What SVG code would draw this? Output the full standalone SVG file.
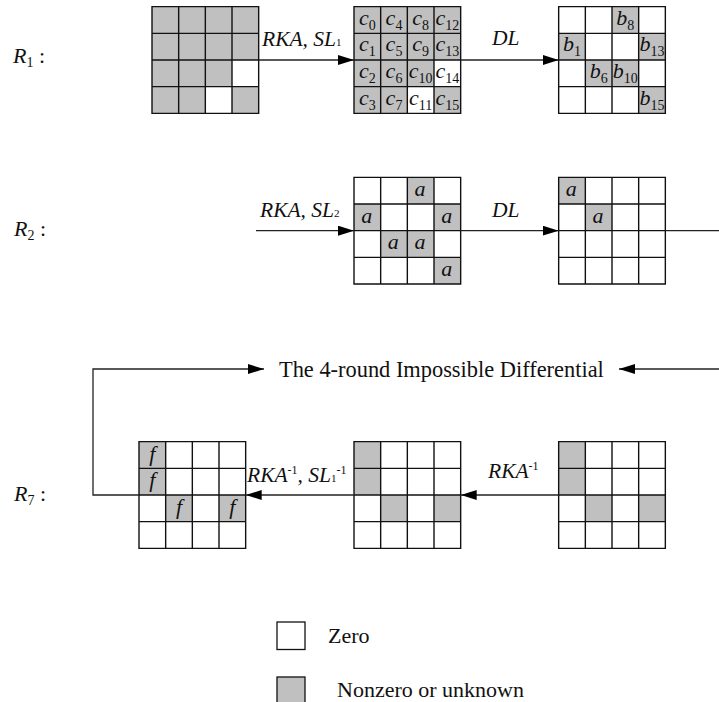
<svg xmlns="http://www.w3.org/2000/svg" width="719" height="702" viewBox="0 0 719 702">
  <style>
    .bg { fill: #ffffff; }
    .on { fill: #c0c0c0; }
    .grid { fill: none; stroke: #111; stroke-width: 1.4; }
    .wire { fill: none; stroke: #222; stroke-width: 1.3; }
    .it { font-family: "Liberation Serif", "Times New Roman", serif; font-style: italic; fill: #111; }
    .rm { font-family: "Liberation Serif", "Times New Roman", serif; font-style: normal; fill: #111; }
    .cell { font-size: 22px; }
    .sub { font-size: 14px; font-style: normal; }
    .op { font-size: 21.5px; }
    .small { font-size: 11px; font-style: normal; }
    .sup { font-size: 12px; font-style: normal; }
    .lbl { font-size: 22px; }
    .note { font-size: 22px; }
  </style>
  <defs>
    <!-- 4x4 state grid outline, 26.67 px cells -->
    <symbol id="lines" overflow="visible">
      <path class="grid" d="M0,0 H106.67 V106.67 H0 Z M26.67,0 V106.67 M53.33,0 V106.67 M80,0 V106.67 M0,26.67 H106.67 M0,53.33 H106.67 M0,80 H106.67"/>
    </symbol>
    <marker id="head" markerUnits="userSpaceOnUse" markerWidth="16" markerHeight="10" refX="16" refY="5" orient="auto">
      <path d="M0,0 L16,5 L0,10 Z" fill="#000"/>
    </marker>
  </defs>

  <rect class="bg" x="0" y="0" width="719" height="702"/>

  <!-- round labels -->
  <g id="label-r1"><text class="it lbl" x="13" y="63">R<tspan class="sub" dy="4">1</tspan><tspan class="rm" dy="-4"> :</tspan></text></g>
  <g id="label-r2"><text class="it lbl" x="14" y="236">R<tspan class="sub" dy="4">2</tspan><tspan class="rm" dy="-4"> :</tspan></text></g>
  <g id="label-r7"><text class="it lbl" x="14" y="501">R<tspan class="sub" dy="4">7</tspan><tspan class="rm" dy="-4"> :</tspan></text></g>

  <!-- R1: input state -->
  <g id="s1" transform="translate(152,6.67)">
    <rect class="on" x="0" y="0" width="106.67" height="106.67"/>
    <rect class="bg" x="80" y="53.33" width="26.67" height="26.67"/>
    <rect class="bg" x="53.33" y="80" width="26.67" height="26.67"/>
    <use href="#lines"/>
  </g>

  <!-- R1: after RKA, SL1 -->
  <g id="s2" transform="translate(354,6.67)">
    <rect class="on" x="0" y="0" width="106.67" height="106.67"/>
    <rect class="bg" x="80" y="53.33" width="26.67" height="26.67"/>
    <rect class="bg" x="53.33" y="80" width="26.67" height="26.67"/>
    <use href="#lines"/>
    <g class="it cell" text-anchor="middle">
      <text x="13.33" y="18">c<tspan class="sub" dy="5">0</tspan></text>
      <text x="13.33" y="44.67">c<tspan class="sub" dy="5">1</tspan></text>
      <text x="13.33" y="71.33">c<tspan class="sub" dy="5">2</tspan></text>
      <text x="13.33" y="98">c<tspan class="sub" dy="5">3</tspan></text>
      <text x="40" y="18">c<tspan class="sub" dy="5">4</tspan></text>
      <text x="40" y="44.67">c<tspan class="sub" dy="5">5</tspan></text>
      <text x="40" y="71.33">c<tspan class="sub" dy="5">6</tspan></text>
      <text x="40" y="98">c<tspan class="sub" dy="5">7</tspan></text>
      <text x="66.67" y="18">c<tspan class="sub" dy="5">8</tspan></text>
      <text x="66.67" y="44.67">c<tspan class="sub" dy="5">9</tspan></text>
      <text x="66.67" y="71.33">c<tspan class="sub" dy="5">10</tspan></text>
      <text x="66.67" y="98">c<tspan class="sub" dy="5">11</tspan></text>
      <text x="93.33" y="18">c<tspan class="sub" dy="5">12</tspan></text>
      <text x="93.33" y="44.67">c<tspan class="sub" dy="5">13</tspan></text>
      <text x="93.33" y="71.33">c<tspan class="sub" dy="5">14</tspan></text>
      <text x="93.33" y="98">c<tspan class="sub" dy="5">15</tspan></text>
    </g>
  </g>

  <!-- R1: after DL -->
  <g id="s3" transform="translate(558.67,6.67)">
    <rect class="on" x="53.33" y="0" width="26.67" height="26.67"/>
    <rect class="on" x="0" y="26.67" width="26.67" height="26.67"/>
    <rect class="on" x="80" y="26.67" width="26.67" height="26.67"/>
    <rect class="on" x="26.67" y="53.33" width="26.67" height="26.67"/>
    <rect class="on" x="53.33" y="53.33" width="26.67" height="26.67"/>
    <rect class="on" x="80" y="80" width="26.67" height="26.67"/>
    <use href="#lines"/>
    <g class="it cell" text-anchor="middle">
      <text x="66.67" y="18">b<tspan class="sub" dy="5">8</tspan></text>
      <text x="13.33" y="44.67">b<tspan class="sub" dy="5">1</tspan></text>
      <text x="93.33" y="44.67">b<tspan class="sub" dy="5">13</tspan></text>
      <text x="40" y="71.33">b<tspan class="sub" dy="5">6</tspan></text>
      <text x="66.67" y="71.33">b<tspan class="sub" dy="5">10</tspan></text>
      <text x="93.33" y="98">b<tspan class="sub" dy="5">15</tspan></text>
    </g>
  </g>

  <!-- R2: after RKA, SL2 -->
  <g id="s4" transform="translate(354,177.33)">
    <rect class="on" x="53.33" y="0" width="26.67" height="26.67"/>
    <rect class="on" x="0" y="26.67" width="26.67" height="26.67"/>
    <rect class="on" x="80" y="26.67" width="26.67" height="26.67"/>
    <rect class="on" x="26.67" y="53.33" width="26.67" height="26.67"/>
    <rect class="on" x="53.33" y="53.33" width="26.67" height="26.67"/>
    <rect class="on" x="80" y="80" width="26.67" height="26.67"/>
    <use href="#lines"/>
    <g class="it cell" text-anchor="middle">
      <text x="66" y="18.5">a</text>
      <text x="12.7" y="45.2">a</text>
      <text x="92.7" y="45.2">a</text>
      <text x="39.3" y="71.8">a</text>
      <text x="66" y="71.8">a</text>
      <text x="92.7" y="98.5">a</text>
    </g>
  </g>

  <!-- R2: after DL -->
  <g id="s5" transform="translate(558.67,177.33)">
    <rect class="on" x="0" y="0" width="26.67" height="26.67"/>
    <rect class="on" x="26.67" y="26.67" width="26.67" height="26.67"/>
    <use href="#lines"/>
    <g class="it cell" text-anchor="middle">
      <text x="12.7" y="18.5">a</text>
      <text x="39.3" y="45.2">a</text>
    </g>
  </g>

  <!-- R7: f state -->
  <g id="s6" transform="translate(139,441.67)">
    <rect class="on" x="0" y="0" width="26.67" height="26.67"/>
    <rect class="on" x="0" y="26.67" width="26.67" height="26.67"/>
    <rect class="on" x="26.67" y="53.33" width="26.67" height="26.67"/>
    <rect class="on" x="80" y="53.33" width="26.67" height="26.67"/>
    <use href="#lines"/>
    <g class="it cell" text-anchor="middle">
      <text x="13.33" y="19">f</text>
      <text x="13.33" y="45.67">f</text>
      <text x="40" y="72.33">f</text>
      <text x="93.33" y="72.33">f</text>
    </g>
  </g>

  <!-- R7: middle state -->
  <g id="s7" transform="translate(354,441.67)">
    <rect class="on" x="0" y="0" width="26.67" height="26.67"/>
    <rect class="on" x="0" y="26.67" width="26.67" height="26.67"/>
    <rect class="on" x="26.67" y="53.33" width="26.67" height="26.67"/>
    <rect class="on" x="80" y="53.33" width="26.67" height="26.67"/>
    <use href="#lines"/>
  </g>

  <!-- R7: output state -->
  <g id="s8" transform="translate(558.67,441.67)">
    <rect class="on" x="0" y="0" width="26.67" height="26.67"/>
    <rect class="on" x="0" y="26.67" width="26.67" height="26.67"/>
    <rect class="on" x="26.67" y="53.33" width="26.67" height="26.67"/>
    <rect class="on" x="80" y="53.33" width="26.67" height="26.67"/>
    <use href="#lines"/>
  </g>

  <!-- connectors -->
  <g id="connectors">
    <line class="wire" x1="258.67" y1="60" x2="354" y2="60" marker-end="url(#head)"/>
    <line class="wire" x1="460.67" y1="60" x2="558.67" y2="60" marker-end="url(#head)"/>
    <line class="wire" x1="256" y1="230.67" x2="354" y2="230.67" marker-end="url(#head)"/>
    <line class="wire" x1="460.67" y1="230.67" x2="558.67" y2="230.67" marker-end="url(#head)"/>
    <line class="wire" x1="665.33" y1="230.67" x2="719" y2="230.67"/>
    <line class="wire" x1="719" y1="369" x2="619" y2="369" marker-end="url(#head)"/>
    <path class="wire" d="M139,495 H93 V369 H264" marker-end="url(#head)"/>
    <line class="wire" x1="354" y1="495" x2="245.67" y2="495" marker-end="url(#head)"/>
    <line class="wire" x1="558.67" y1="495" x2="460.67" y2="495" marker-end="url(#head)"/>

    <text class="it op" x="262" y="46">RKA, SL<tspan class="small">1</tspan></text>
    <text class="it op" x="492" y="45">DL</text>
    <text class="it op" x="260" y="217">RKA, SL<tspan class="small">2</tspan></text>
    <text class="it op" x="492" y="217">DL</text>
    <text class="it op" x="247" y="482">RKA<tspan class="sup" dy="-8">-1</tspan><tspan dy="8">, SL</tspan><tspan class="small">1</tspan><tspan class="sup" dy="-8">-1</tspan></text>
    <text class="it op" x="488" y="477.5">RKA<tspan class="sup" dy="-8">-1</tspan></text>
    <text class="rm" font-size="22.4" x="279" y="377">The 4-round Impossible Differential</text>
  </g>

  <!-- legend -->
  <g id="legend-zero">
    <rect x="277" y="622" width="28" height="27.5" fill="#fff" stroke="#111" stroke-width="1.3"/>
    <text class="rm note" x="328" y="643">Zero</text>
  </g>
  <g id="legend-nonzero">
    <rect x="277" y="677" width="28" height="28" fill="#c0c0c0" stroke="#111" stroke-width="1.3"/>
    <text class="rm note" x="337" y="697">Nonzero or unknown</text>
  </g>
</svg>
